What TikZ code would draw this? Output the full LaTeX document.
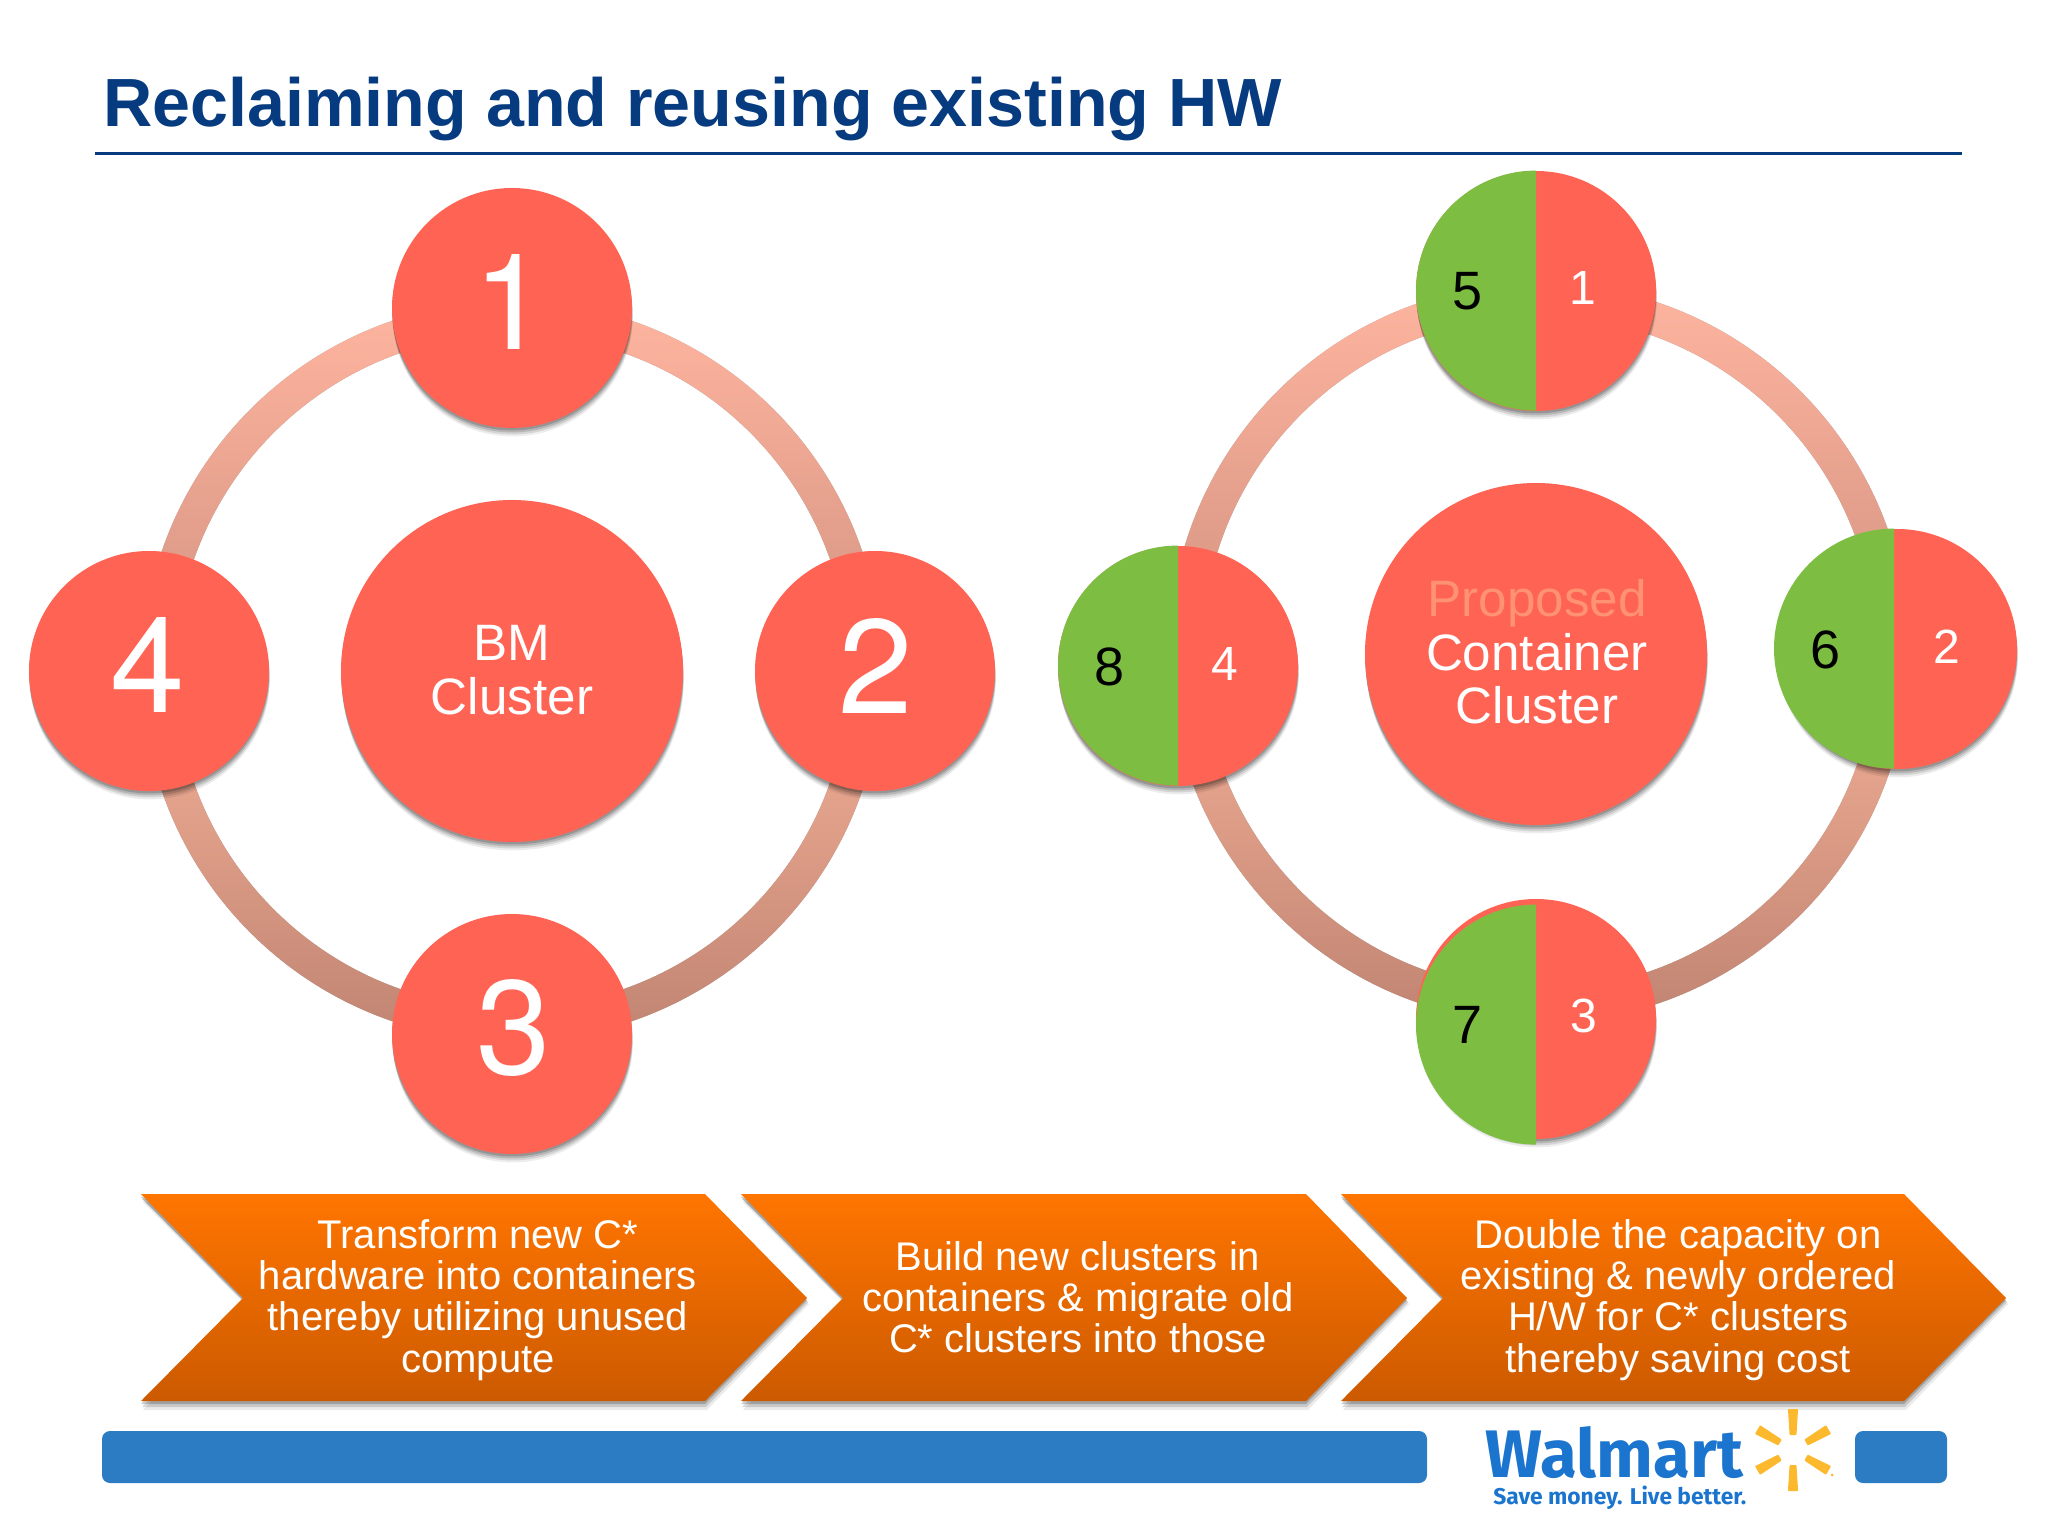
\documentclass[tikz,border=0pt]{standalone}
\usepackage{fontspec}
\setmainfont{Liberation Sans}
\newfontfamily\logofont{Fira Sans}
\newfontfamily\digitfont{TeX Gyre Heros}
\usetikzlibrary{calc}
\definecolor{coral}{HTML}{FF6354}
\definecolor{leaf}{HTML}{7CBD42}
\definecolor{navy}{HTML}{063B80}
\definecolor{barblue}{HTML}{2C7CC3}
\definecolor{logoblue}{HTML}{1B75CF}
\definecolor{sparkgold}{HTML}{FDB92E}
\definecolor{ringtop}{HTML}{FFB5A0}
\definecolor{ringmida}{HTML}{D29280}
\definecolor{ringmidb}{HTML}{F5B198}
\definecolor{ringbot}{HTML}{C08472}
\definecolor{proposed}{HTML}{FF9270}
\definecolor{chevtop}{HTML}{FF7500}
\definecolor{chevbot}{HTML}{CC5A00}
\newcommand{\fs}[2]{\fontsize{#1}{#2}\selectfont}
\tikzset{
  softshadow/.style={
    preaction={fill=black,fill opacity=.07,transform canvas={yshift=-4.2pt,xshift=.4pt}},
    preaction={fill=black,fill opacity=.10,transform canvas={yshift=-3.2pt,xshift=.3pt}},
    preaction={fill=black,fill opacity=.14,transform canvas={yshift=-2.2pt,xshift=.2pt}},
    preaction={fill=black,fill opacity=.18,transform canvas={yshift=-1.2pt}}},
  ball/.style={circle,fill=coral,softshadow,minimum size=120pt,inner sep=0pt},
  hubball/.style={circle,fill=coral,softshadow,minimum size=171pt,inner sep=0pt},
  hubtext/.style={text=white,font=\fs{25.6}{26.8},align=center,inner sep=0pt},
  bigdigit/.style={text=white,font=\digitfont\fs{67}{67},inner sep=0pt},
  blackdigit/.style={text=black,font=\fs{27}{27},inner sep=0pt},
  whitedigit/.style={text=white,font=\fs{24}{24},inner sep=0pt},
  chevrontext/.style={text=white,font=\fs{20}{20.6},align=center,inner sep=0pt},
  chev/.style={top color=chevtop,bottom color=chevbot},
  bar/.style={fill=barblue,rounded corners=4pt},
  ray/.style={fill=sparkgold,draw=sparkgold,line width=1pt,line join=round},
}
\newcommand{\ringat}[1]{%
  \fill[black,opacity=.08,even odd rule,yshift=-4.5pt] (#1) circle[radius=370] (#1) circle[radius=337];
  \fill[black,opacity=.14,even odd rule,yshift=-3.2pt] (#1) circle[radius=370] (#1) circle[radius=337];
  \fill[black,opacity=.20,even odd rule,yshift=-2pt] (#1) circle[radius=370] (#1) circle[radius=337];
  \shade[top color=ringtop,bottom color=ringmida]
    ($(#1)+(-370,0)$) arc[start angle=180,end angle=0,radius=185pt] -- ($(#1)+(337,0)$) arc[start angle=0,end angle=180,radius=168.5pt] -- cycle;
  \shade[top color=ringmidb,bottom color=ringbot]
    ($(#1)+(-370,0)$) arc[start angle=180,end angle=360,radius=185pt] -- ($(#1)+(337,0)$) arc[start angle=360,end angle=180,radius=168.5pt] -- cycle;
}
\begin{document}
\begin{tikzpicture}[x=.5pt,y=-.5pt]
\useasboundingbox (0,0) rectangle (2048,1536);
\fill[white] (0,0) rectangle (2048,1536);
% title
\node[anchor=base west,inner sep=0pt,text=navy,font=\fs{34.1}{35}\bfseries] (title) at (103,126.5) {Reclaiming and reusing existing HW};
\coordinate (ruleL) at (95,153.5);
\coordinate (ruleR) at (1962,153.5);
\draw[navy,line width=1.3pt] (ruleL) -- (ruleR);
% left ring
\coordinate (lc) at (512,671);
\ringat{lc}
\node[ball] (a1) at (512,308) {};
\node[ball] (a2) at (875,671) {};
\node[ball] (a3) at (512,1034) {};
\node[ball] (a4) at (149,671) {};
\node[hubball] (bm) at (lc) {};
\node[bigdigit] (d1) at (511,302) {1};
\node[bigdigit] (d2) at (876,666) {2};
\node[bigdigit] (d3) at (514,1028) {3};
\node[bigdigit] (d4) at (148,665) {4};
\node[hubtext] (bmt) at (512,670) {BM\\Cluster};
% right ring
\coordinate (rc) at (1539,653);
\ringat{rc}
\node[hubball] (cc) at (1536,654) {};
\node[hubtext] (cct) at (1537,652) {{\color{proposed}Proposed}\\Container\\Cluster};
\node[ball] (b1) at (1536,291) {};
\node[ball] (b2) at (1897,649) {};
\node[ball] (b3) at (1536,1019) {};
\node[ball] (b4) at (1178,666) {};
\fill[leaf] (b1.north) arc[start angle=90,end angle=270,radius=60pt] -- cycle;
\fill[leaf] ($(b2.north)+(-3,0)$) arc[start angle=90,end angle=270,radius=60pt] -- cycle;
\fill[leaf] ($(b3.north)+(0,6)$) arc[start angle=90,end angle=270,radius=60pt] -- cycle;
\fill[leaf] (b4.north) arc[start angle=90,end angle=270,radius=60pt] -- cycle;
\node[blackdigit] (n5) at (1467,291) {5};
\node[whitedigit] (n1) at (1583,288) {1};
\node[blackdigit] (n6) at (1825,650) {6};
\node[whitedigit] (n2) at (1947,647) {2};
\node[blackdigit] (n7) at (1467,1025) {7};
\node[whitedigit] (n3) at (1584,1016) {3};
\node[blackdigit] (n8) at (1109,667) {8};
\node[whitedigit] (n4) at (1225,664) {4};
% chevrons
\foreach \l/\t/\p in {141/705/807,741/1306/1407,1341/1904/2006}{
  \fill[black,opacity=.08] (\l+2,1202) -- (\t+2,1202) -- (\p+2,1304) -- (\t+2,1410) -- (\l+2,1410) -- (\l+104,1304) -- cycle;
  \fill[black,opacity=.14] (\l+1,1199) -- (\t+1,1199) -- (\p+1,1302) -- (\t+1,1407) -- (\l+1,1407) -- (\l+103,1302) -- cycle;
  \fill[black,opacity=.20] (\l,1197) -- (\t,1197) -- (\p,1300) -- (\t,1404) -- (\l,1404) -- (\l+102,1300) -- cycle;
  \shade[chev] (\l,1194) -- (\t,1194) -- (\p,1298) -- (\t,1401) -- (\l,1401) -- (\l+102,1298) -- cycle;
}
\node[chevrontext] (t1) at (478,1300) {Transform new C*\\hardware into containers\\thereby utilizing unused\\compute};
\node[chevrontext] (t2) at (1078,1297) {Build new clusters in\\containers \& migrate old\\C* clusters into those};
\node[chevrontext] (t3) at (1678,1300) {Double the capacity on\\existing \& newly ordered\\H/W for C* clusters\\thereby saving cost};
% footer
\fill[bar] (102,1431) rectangle (1427,1483);
\fill[bar] (1855,1431) rectangle (1947,1483);
\node[anchor=base west,inner sep=0pt,text=logoblue,font=\logofont\bfseries\fs{33.6}{34}] (logo) at (1485,1477) {Walmart};
\node[anchor=base west,inner sep=0pt,text=logoblue,font=\logofont\bfseries\fs{11.4}{12}] (tag) at (1493,1504) {Save money. Live better.};
\coordinate (spark) at (1793,1450);
\foreach \a in {0,60,...,300}
  \fill[ray,rotate around={\a:(spark)}] (1790.5,1434) -- (1795.5,1434) -- (1797,1410) -- (1789,1410) -- cycle;
\fill[sparkgold] (1832,1475) circle[radius=1.5];
\end{tikzpicture}
\end{document}
